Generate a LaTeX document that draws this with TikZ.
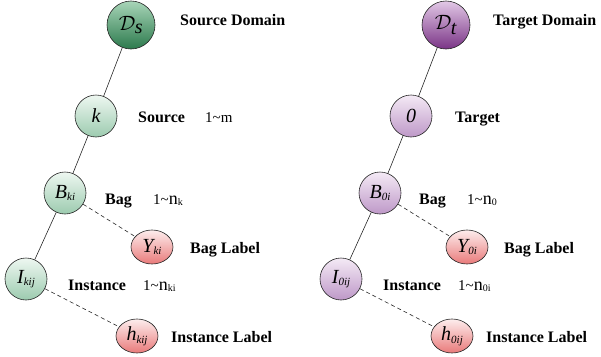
\documentclass[tikz,border=0pt]{standalone}
\usepackage{fontspec}
\setmainfont{Liberation Serif}
\usetikzlibrary{shapes.geometric,shadings}
\newcommand{\lowsub}[1]{\raisebox{-0.3ex}{\fontsize{11}{11}\selectfont\itshape #1}}
\newcommand{\rsub}[1]{\raisebox{-0.2ex}{\fontsize{10}{10}\selectfont #1}}
\definecolor{gtop}{HTML}{EEF7F1}
\definecolor{gbot}{HTML}{9CCBAF}
\definecolor{gdtop}{HTML}{A8D5B8}
\definecolor{gdbot}{HTML}{2C7A4D}
\definecolor{ptop}{HTML}{F4EAF5}
\definecolor{pbot}{HTML}{BE98C8}
\definecolor{pdtop}{HTML}{E2C8E6}
\definecolor{pdbot}{HTML}{7A3486}
\definecolor{rtop}{HTML}{FDEDED}
\definecolor{rbot}{HTML}{E97A7A}
\begin{document}
\begin{tikzpicture}[x=1pt,y=-1pt,
  nd/.style={circle,draw=black!85,line width=0.6pt,minimum size=42pt,inner sep=0pt,font=\fontsize{20}{20}\selectfont\itshape},
  gnode/.style={nd,top color=gtop,bottom color=gbot},
  pnode/.style={nd,top color=ptop,bottom color=pbot},
  gdom/.style={nd,minimum size=48pt,top color=gdtop,bottom color=gdbot},
  pdom/.style={nd,minimum size=48pt,top color=pdtop,bottom color=pdbot},
  lnode/.style={ellipse,draw=black!85,line width=0.6pt,minimum width=42pt,minimum height=34pt,inner sep=0pt,
     top color=rtop,bottom color=rbot,font=\fontsize{20}{20}\selectfont\itshape},
  lab/.style={anchor=base west,inner sep=0pt,font=\fontsize{16}{16}\selectfont\bfseries},
  rng/.style={anchor=base west,inner sep=0pt,font=\fontsize{15}{15}\selectfont},
  edge/.style={line width=0.6pt,black!85},
  dedge/.style={line width=0.6pt,black!85,dashed,dash pattern=on 4pt off 3pt}]
\useasboundingbox (0,0) rectangle (601,356);
% left tree
\node[gdom] (ds) at (131,25) {$\mathcal{D}_{\textit{s}}$};
\node[gnode] (k) at (96,116) {k};
\node[gnode] (b) at (65,193) {B\lowsub{ki}};
\node[lnode] (y) at (152,247) {Y\lowsub{ki}};
\node[gnode] (i) at (26,279) {I\lowsub{kij}};
\node[lnode] (h) at (137,336) {h\lowsub{kij}};
\draw[edge] (ds) -- (k);
\draw[edge] (k) -- (b);
\draw[edge] (b) -- (i);
\draw[dedge] (b) -- (y);
\draw[dedge] (i) -- (h);
\node[lab] (t1) at (180,25.5) {Source Domain};
\node[lab] (t2) at (138,122.5) {Source};
\node[rng] (r2) at (205,122.5) {1\textasciitilde m};
\node[lab] (t3) at (105,204.5) {Bag};
\node[rng] (r3) at (153,204.5) {1\textasciitilde{\fontsize{18}{18}\selectfont n}\rsub{k}};
\node[lab] (t4) at (190,253.5) {Bag Label};
\node[lab] (t5) at (68,290.5) {Instance};
\node[rng] (r5) at (143,290.5) {1\textasciitilde{\fontsize{18}{18}\selectfont n}\rsub{ki}};
\node[lab] (t6) at (171,342.5) {Instance Label};
% right tree
\node[pdom] (dt) at (446,25) {$\mathcal{D}_{\textit{t}}$};
\node[pnode] (o) at (411,116) {0};
\node[pnode] (b2) at (380,193) {B\lowsub{0i}};
\node[lnode] (y2) at (467,247) {Y\lowsub{0i}};
\node[pnode] (i2) at (341,279) {I\lowsub{0ij}};
\node[lnode] (h2) at (452,336) {h\lowsub{0ij}};
\draw[edge] (dt) -- (o);
\draw[edge] (o) -- (b2);
\draw[edge] (b2) -- (i2);
\draw[dedge] (b2) -- (y2);
\draw[dedge] (i2) -- (h2);
\node[lab] (s1) at (493,25.5) {Target Domain};
\node[lab] (s2) at (455,122.5) {Target};
\node[lab] (s3) at (419,204.5) {Bag};
\node[rng] (q3) at (467,204.5) {1\textasciitilde{\fontsize{18}{18}\selectfont n}\rsub{0}};
\node[lab] (s4) at (504,253.5) {Bag Label};
\node[lab] (s5) at (383,290.5) {Instance};
\node[rng] (q5) at (458,290.5) {1\textasciitilde{\fontsize{18}{18}\selectfont n}\rsub{0i}};
\node[lab] (s6) at (486,342.5) {Instance Label};
\end{tikzpicture}
\end{document}
